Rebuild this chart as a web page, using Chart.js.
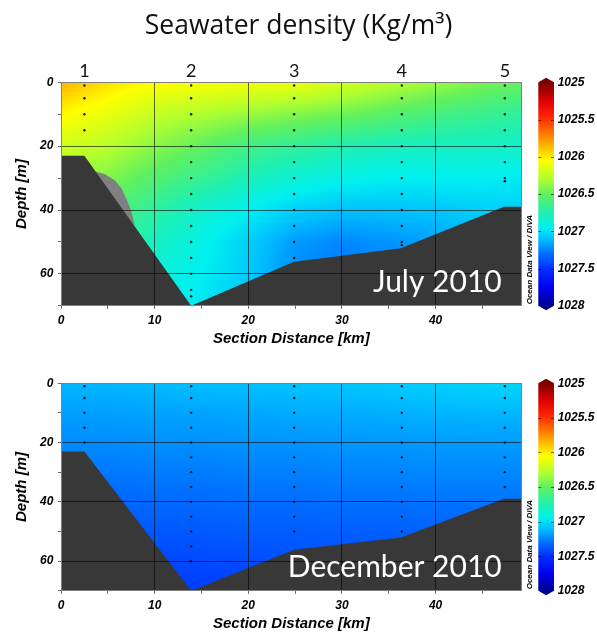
<!DOCTYPE html>
<html>
<head>
<meta charset="utf-8">
<script src="https://cdn.jsdelivr.net/npm/chart.js@4.4.0/dist/chart.umd.min.js"></script>
<style>
    html, body { margin: 0; padding: 0; background: #fff; }
    body { width: 597px; height: 634px; position: relative; overflow: hidden; }
    canvas { position: absolute; left: 0; }
    #july { top: 0; }
    #december { top: 340px; }
</style>
</head>
<body>
<canvas id="july" width="597" height="349"></canvas>
<canvas id="december" width="597" height="294"></canvas>
<script>
// stations along the section
const stationNames = ['1', '2', '3', '4', '5'];
const stationDist = [2.5, 13.9, 24.9, 36.4, 47.4];

// sample depths (m) at each station
const julySampleDepths = [
    [1, 5, 10, 15],
    [1, 5, 10, 15, 20, 25, 30, 35, 40, 45, 50, 55, 60, 65, 67],
    [1, 5, 10, 15, 20, 25, 30, 35, 40, 45, 50, 55],
    [1, 5, 10, 15, 20, 25, 30, 35, 40, 45, 50, 51],
    [1, 5, 10, 15, 20, 25, 30, 31]
];
const decemberSampleDepths = [
    [1, 5, 10, 15, 20],
    [1, 5, 10, 15, 20, 25, 30, 35, 40, 45, 50, 55, 60],
    [1, 5, 10, 15, 20, 25, 30, 35, 40, 45, 50],
    [1, 5, 10, 15, 20, 25, 30, 35, 40, 45, 50],
    [1, 5, 10, 15, 20, 25, 30, 35]
];

// sea floor profile
const bottomDist = [0, 2.5, 13.9, 24.9, 36.3, 47.3, 50];
const bottomDepth = [23, 23, 70, 56.2, 52, 39, 39];

// grey no-data patch on the slope (July)
const blobDist = [3.67, 4.7, 5.8, 6.5, 7.0, 7.5, 7.85];
const blobDepth = [27.9, 28.8, 30.8, 33.4, 36.6, 40.2, 44.4];

// density field (rows = depth, cols = distance)
const gridDist = [0, 5, 10, 15, 20, 25, 30, 35, 40, 45, 50];
const gridDepth = [0, 10, 20, 30, 40, 50, 60, 70];
const julyDensity = [
    [1025.84, 1025.97, 1026.05, 1026.06, 1026.08, 1026.10, 1026.18, 1026.27, 1026.35, 1026.44, 1026.50],
    [1026.04, 1026.12, 1026.24, 1026.30, 1026.36, 1026.41, 1026.46, 1026.53, 1026.60, 1026.65, 1026.70],
    [1026.20, 1026.27, 1026.40, 1026.50, 1026.62, 1026.68, 1026.75, 1026.79, 1026.81, 1026.82, 1026.83],
    [1026.35, 1026.42, 1026.55, 1026.66, 1026.78, 1026.87, 1026.92, 1026.95, 1026.95, 1026.95, 1026.97],
    [1026.50, 1026.56, 1026.70, 1026.85, 1026.95, 1027.05, 1027.09, 1027.09, 1027.08, 1027.05, 1027.05],
    [1026.60, 1026.66, 1026.80, 1026.92, 1027.05, 1027.19, 1027.24, 1027.21, 1027.17, 1027.14, 1027.14],
    [1026.70, 1026.76, 1026.88, 1026.95, 1027.06, 1027.23, 1027.27, 1027.25, 1027.21, 1027.18, 1027.18],
    [1026.75, 1026.80, 1026.92, 1026.97, 1027.10, 1027.26, 1027.28, 1027.27, 1027.24, 1027.22, 1027.22]
];
const decemberDensity = [
    [1027.12, 1027.12, 1027.11, 1027.10, 1027.10, 1027.09, 1027.08, 1027.07, 1027.05, 1027.04, 1027.03],
    [1027.18, 1027.18, 1027.17, 1027.17, 1027.16, 1027.15, 1027.15, 1027.14, 1027.13, 1027.12, 1027.12],
    [1027.23, 1027.23, 1027.22, 1027.22, 1027.21, 1027.21, 1027.20, 1027.20, 1027.19, 1027.19, 1027.19],
    [1027.28, 1027.28, 1027.27, 1027.27, 1027.26, 1027.26, 1027.25, 1027.25, 1027.24, 1027.24, 1027.24],
    [1027.33, 1027.33, 1027.32, 1027.32, 1027.31, 1027.31, 1027.30, 1027.30, 1027.29, 1027.29, 1027.29],
    [1027.38, 1027.38, 1027.37, 1027.37, 1027.36, 1027.36, 1027.35, 1027.35, 1027.34, 1027.34, 1027.34],
    [1027.43, 1027.43, 1027.42, 1027.42, 1027.41, 1027.40, 1027.40, 1027.40, 1027.39, 1027.39, 1027.39],
    [1027.48, 1027.48, 1027.47, 1027.46, 1027.45, 1027.44, 1027.44, 1027.44, 1027.43, 1027.43, 1027.43]
];

// colour scale
const cbMin = 1025, cbMax = 1028;
const cmapVals = [1025, 1025.25, 1025.45, 1025.75, 1026.05, 1026.3, 1026.5, 1026.75, 1026.95, 1027.1, 1027.3, 1027.5, 1027.75, 1028];
const cmapCols = ['#7a0000', '#e00000', '#ff2000', '#ff9000', '#ffff00', '#b0ff30', '#60f060', '#20f0b0',
                  '#00f0f0', '#00c0ff', '#0070ff', '#0030ff', '#0000f0', '#000090'];
const cmapRgb = cmapCols.map(h => [1, 3, 5].map(i => parseInt(h.substr(i, 2), 16)));

const tickFont = {family: '"Liberation Sans", Arial, sans-serif', size: 12, style: 'italic', weight: 'bold'};
const axisTitleFont = {family: '"Liberation Sans", Arial, sans-serif', size: 15, style: 'italic', weight: 'bold'};
const gridColor = 'rgba(0,0,0,0.6)';

function locate(arr, v) {
    let i = 0;
    while (i < arr.length - 2 && v > arr[i + 1]) i++;
    const t = (v - arr[i]) / (arr[i + 1] - arr[i]);
    return [i, Math.max(0, Math.min(1, t))];
}

function sampleField(field, dist, depth) {
    const [i, tx] = locate(gridDist, dist);
    const [j, ty] = locate(gridDepth, depth);
    const a = field[j][i] * (1 - tx) + field[j][i + 1] * tx;
    const b = field[j + 1][i] * (1 - tx) + field[j + 1][i + 1] * tx;
    return a * (1 - ty) + b * ty;
}

function colorFor(v) {
    const [k, t] = locate(cmapVals, v);
    const c0 = cmapRgb[k], c1 = cmapRgb[k + 1];
    return [0, 1, 2].map(n => Math.round(c0[n] + (c1[n] - c0[n]) * t));
}

function toPoints(xs, ys) {
    return xs.map((x, i) => ({x: x, y: ys[i]}));
}

function makeSection(canvasId, density, sampleDepths, label, isTop) {
    const dots = [];
    stationDist.forEach((d, i) => sampleDepths[i].forEach(z => dots.push({x: d, y: z})));

    const datasets = [
        {data: dots, showLine: false, pointRadius: 1.2, pointBackgroundColor: '#1a1a1a', pointBorderWidth: 0, order: 0},
        {data: toPoints(bottomDist, bottomDepth), fill: {value: 70}, backgroundColor: '#383838',
         borderWidth: 0, pointRadius: 0, order: 1}
    ];
    if (isTop) {
        datasets.push({data: toPoints(blobDist, blobDepth), fill: {value: 70}, backgroundColor: '#808080',
                       borderWidth: 0, pointRadius: 0, order: 2});
    }

    const fieldPlugin = {
        id: 'field',
        beforeDatasetsDraw(chart) {
            const {ctx, chartArea: a, scales: {x, y}} = chart;
            const w = Math.round(a.right - a.left), h = Math.round(a.bottom - a.top);
            const off = document.createElement('canvas');
            off.width = w; off.height = h;
            const octx = off.getContext('2d');
            const img = octx.createImageData(w, h);
            for (let j = 0; j < h; j++) {
                const depth = y.getValueForPixel(a.top + j + 0.5);
                for (let i = 0; i < w; i++) {
                    const dist = x.getValueForPixel(a.left + i + 0.5);
                    const c = colorFor(sampleField(density, dist, depth));
                    const p = (j * w + i) * 4;
                    img.data[p] = c[0]; img.data[p + 1] = c[1]; img.data[p + 2] = c[2]; img.data[p + 3] = 255;
                }
            }
            octx.putImageData(img, 0, 0);
            ctx.drawImage(off, a.left, a.top, a.right - a.left, a.bottom - a.top);
        }
    };

    const decorPlugin = {
        id: 'decor',
        afterDraw(chart) {
            const {ctx, chartArea: a, scales: {x, cb}} = chart;
            ctx.save();
            // frame
            ctx.strokeStyle = '#808080';
            ctx.lineWidth = 1;
            ctx.strokeRect(Math.round(a.left) + 0.5, Math.round(a.top) + 0.5,
                           Math.round(a.right - a.left) - 1, Math.round(a.bottom - a.top) - 1);

            // colour bar
            const top = cb.getPixelForValue(cbMin);
            const bot = cb.getPixelForValue(cbMax);
            const left = a.right + 16.6, bw = 15.7;
            const g = ctx.createLinearGradient(0, top, 0, bot);
            cmapVals.forEach((v, i) => g.addColorStop((v - cbMin) / (cbMax - cbMin), cmapCols[i]));
            ctx.fillStyle = g;
            ctx.beginPath();
            ctx.moveTo(left, top);
            ctx.lineTo(left + bw / 2, top - 4.5);
            ctx.lineTo(left + bw, top);
            ctx.lineTo(left + bw, bot);
            ctx.lineTo(left + bw / 2, bot + 4.5);
            ctx.lineTo(left, bot);
            ctx.closePath();
            ctx.fill();
            ctx.strokeStyle = 'rgba(0,0,0,0.55)';
            cb.ticks.forEach(t => {
                if (t.value === cbMin || t.value === cbMax) return;
                const py = Math.round(cb.getPixelForValue(t.value)) + 0.5;
                ctx.beginPath();
                ctx.moveTo(left, py); ctx.lineTo(left + 3, py);
                ctx.moveTo(left + bw - 3, py); ctx.lineTo(left + bw, py);
                ctx.stroke();
            });

            // credit
            ctx.save();
            ctx.translate(a.right + 8, a.bottom - 1.5);
            ctx.rotate(-Math.PI / 2);
            ctx.fillStyle = '#000';
            ctx.font = 'italic bold 8px "Liberation Sans", Arial, sans-serif';
            ctx.textAlign = 'left';
            ctx.textBaseline = 'middle';
            ctx.fillText('Ocean Data View / DIVA', 0, 0);
            ctx.restore();

            // station numbers
            if (isTop) {
                ctx.fillStyle = '#111';
                ctx.font = '18px Lato, "Open Sans", sans-serif';
                ctx.textAlign = 'center';
                ctx.textBaseline = 'alphabetic';
                stationNames.forEach((n, i) => ctx.fillText(n, x.getPixelForValue(stationDist[i]), a.top - 5.6));
            }

            // month label
            ctx.fillStyle = '#ffffff';
            ctx.font = '30px Lato, "Open Sans", sans-serif';
            ctx.textAlign = 'right';
            ctx.textBaseline = 'alphabetic';
            ctx.fillText(label, a.right - 20, a.bottom - 13.5);
            ctx.restore();
        }
    };

    return new Chart(document.getElementById(canvasId), {
        type: 'line',
        data: {datasets: datasets},
        options: {
            responsive: false,
            animation: false,
            events: [],
            layout: {padding: {top: isTop ? 0 : 26.7, left: 0, right: 0, bottom: 0}},
            plugins: {
                legend: {display: false},
                tooltip: {enabled: false},
                title: {
                    display: isTop,
                    text: 'Seawater density (Kg/m³)',
                    color: '#111',
                    font: {family: '"Open Sans", Lato, sans-serif', size: 26.5, weight: 'normal'},
                    padding: {top: 10.5, bottom: 40}
                }
            },
            scales: {
                x: {
                    type: 'linear', min: 0, max: 49.2,
                    border: {display: false},
                    grid: {z: 1, color: c => c.tick.value % 10 === 0 ? gridColor : 'transparent', tickColor: '#666', tickLength: 3},
                    ticks: {stepSize: 5, includeBounds: false, autoSkip: false, maxRotation: 0, padding: 5,
                            color: '#000', font: tickFont, callback: v => v % 10 === 0 ? v : ''},
                    title: {display: true, text: 'Section Distance [km]', color: '#000', font: axisTitleFont, padding: 0},
                    afterFit: s => { s.height = 42.3; }
                },
                y: {
                    type: 'linear', min: 0, max: 70, reverse: true,
                    border: {display: false},
                    grid: {z: 1, color: c => c.tick.value % 20 === 0 ? gridColor : 'transparent', tickColor: '#666', tickLength: 3},
                    ticks: {stepSize: 10, includeBounds: false, autoSkip: false, padding: 4.7,
                            color: '#000', font: tickFont, callback: v => v % 20 === 0 ? v : ''},
                    title: {display: true, text: 'Depth [m]', color: '#000', font: axisTitleFont, padding: {top: 13, bottom: 0}},
                    afterFit: s => { s.width = 61; }
                },
                cb: {
                    type: 'linear', position: 'right', min: cbMin, max: cbMax, reverse: true,
                    border: {display: false},
                    grid: {drawOnChartArea: false, drawTicks: false},
                    ticks: {stepSize: 0.5, padding: 36, color: '#000', font: tickFont, callback: v => String(v)},
                    afterFit: s => { s.width = 75.3; }
                }
            }
        },
        plugins: [fieldPlugin, decorPlugin]
    });
}

makeSection('july', julyDensity, julySampleDepths, 'July 2010', true);
makeSection('december', decemberDensity, decemberSampleDepths, 'December 2010', false);
</script>
</body>
</html>
